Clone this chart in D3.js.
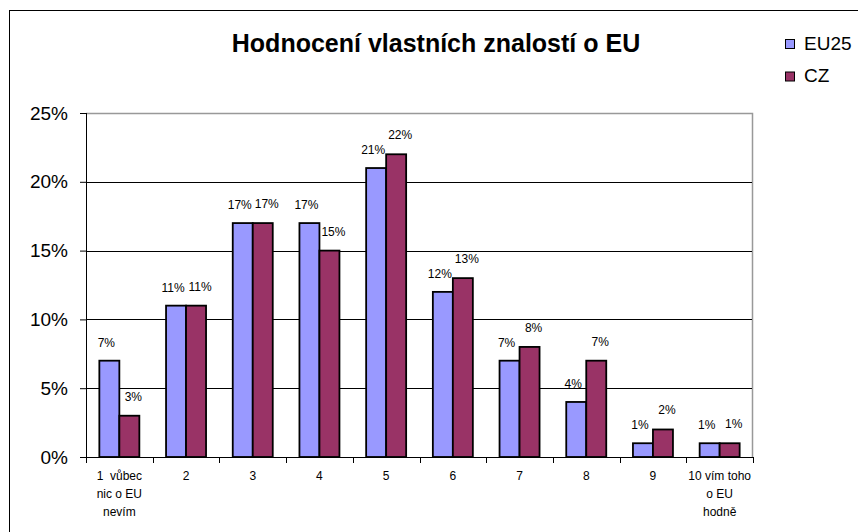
<!DOCTYPE html>
<html>
<head>
<meta charset="utf-8">
<script src="https://cdn.jsdelivr.net/npm/d3@7"></script>
<style>
  body { margin: 0; background: #fff; }
  text { font-family: "Liberation Sans", Arial, sans-serif; }
</style>
</head>
<body>
<div id="chart"></div>
<script>
// data
var categories = ["1  vůbec|nic o EU|nevím", "2", "3", "4", "5", "6", "7", "8", "9", "10 vím toho|o EU|hodně"];
var seriesNames = ["EU25", "CZ"];
var eu25 = [7, 11, 17, 17, 21, 12, 7, 4, 1, 1];
var cz = [3, 11, 17, 15, 22, 13, 8, 7, 2, 1];
var yTicks = [0, 5, 10, 15, 20, 25];
var colors = ["#9999ff", "#993366"];

var W = 858, H = 532;
var margin = {top: 113, right: 105, bottom: 75, left: 86};
var width = W - margin.left - margin.right;
var height = H - margin.top - margin.bottom;

var svg = d3.select("#chart").append("svg")
    .attr("width", W)
    .attr("height", H);

// outer chart border
svg.append("rect")
   .attr("x", 9.5).attr("y", 10.5)
   .attr("width", 900).attr("height", 600)
   .attr("fill", "none").attr("stroke", "#000").attr("stroke-width", 1);

svg.append("text")
   .attr("x", 436).attr("y", 52)
   .attr("text-anchor", "middle")
   .style("font-size", "25px").style("font-weight", "bold")
   .text("Hodnocení vlastních znalostí o EU");

var g = svg.append("g").attr("transform", "translate(" + margin.left + "," + margin.top + ")");

var x = d3.scaleBand().domain(d3.range(categories.length)).range([0, width]);
var y = d3.scaleLinear().domain([0, 25]).range([height, 0]);
var xs = d3.scaleBand().domain(d3.range(seriesNames.length))
           .range([0, 40]);

// plot area border (grey top/right)
g.append("path")
 .attr("d", "M0,0.5H" + (width - 0.5) + "V" + height)
 .attr("fill", "none").attr("stroke", "#999").attr("stroke-width", 1.5);

// gridlines
g.selectAll(".grid")
 .data(yTicks.filter(function(d) { return d > 0 && d < 25; }))
 .enter().append("line")
 .attr("x1", 0).attr("x2", width - 1)
 .attr("y1", function(d) { return Math.round(y(d)) + 0.5; })
 .attr("y2", function(d) { return Math.round(y(d)) + 0.5; })
 .attr("stroke", "#000").attr("stroke-width", 1);

// y axis
var yaxis = g.append("g")
  .call(d3.axisLeft(y).tickValues(yTicks).tickSize(6).tickPadding(12)
          .tickFormat(function(d) { return d + "%"; }));
yaxis.selectAll("text").style("font-size", "19px").attr("fill", "#000");
yaxis.select(".domain").attr("d", "M0.5,0V" + height);

// x axis
var xaxis = g.append("g").attr("transform", "translate(0," + height + ")");
xaxis.append("line").attr("x1", 0).attr("x2", width).attr("y1", 0.5).attr("y2", 0.5)
     .attr("stroke", "#000");
xaxis.selectAll(".tk")
     .data(d3.range(categories.length + 1))
     .enter().append("line")
     .attr("x1", function(i) { return Math.round(i * x.step()) + 0.5; })
     .attr("x2", function(i) { return Math.round(i * x.step()) + 0.5; })
     .attr("y1", 0).attr("y2", 6)
     .attr("stroke", "#000");

var lbl = xaxis.selectAll(".lbl")
     .data(categories)
     .enter().append("text")
     .attr("text-anchor", "middle")
     .attr("transform", function(d, i) { return "translate(" + (x(i) + x.bandwidth() / 2) + ",23)"; })
     .style("font-size", "12px");
lbl.selectAll("tspan")
   .data(function(d) { return d.split("|"); })
   .enter().append("tspan")
   .attr("x", 0)
   .attr("dy", function(d, i) { return i === 0 ? 0 : 18; })
   .attr("xml:space", "preserve")
   .text(function(d) { return d; });

// bars
var allSeries = [eu25, cz];
var groupOff = (x.bandwidth() - 40) / 2;
allSeries.forEach(function(vals, s) {
  var sg = g.append("g");
  sg.selectAll("rect")
    .data(vals)
    .enter().append("rect")
    .attr("x", function(d, i) { return x(i) + groupOff + xs(s); })
    .attr("y", function(d) { return y(d); })
    .attr("width", xs.bandwidth())
    .attr("height", function(d) { return height - y(d); })
    .attr("fill", colors[s])
    .attr("stroke", "#000").attr("stroke-width", 1.8);
  sg.selectAll("text")
    .data(vals)
    .enter().append("text")
    .attr("x", function(d, i) { return x(i) + groupOff + xs(s) + xs.bandwidth() / 2 + (s === 0 ? -3 : 4); })
    .attr("y", function(d) { return y(d) - (s === 0 ? 14 : 15); })
    .attr("text-anchor", "middle")
    .style("font-size", "12px")
    .text(function(d) { return d + "%"; });
});

// legend
var leg = svg.append("g").attr("transform", "translate(785,39)");
seriesNames.forEach(function(n, i) {
  leg.append("rect")
     .attr("x", 0.5).attr("y", i * 32.5 + 0.5)
     .attr("width", 9).attr("height", 9)
     .attr("fill", colors[i]).attr("stroke", "#000");
  leg.append("text")
     .attr("x", 19).attr("y", i * 32.5 + 10.5)
     .style("font-size", "19px")
     .text(n);
});
</script>
</body>
</html>
